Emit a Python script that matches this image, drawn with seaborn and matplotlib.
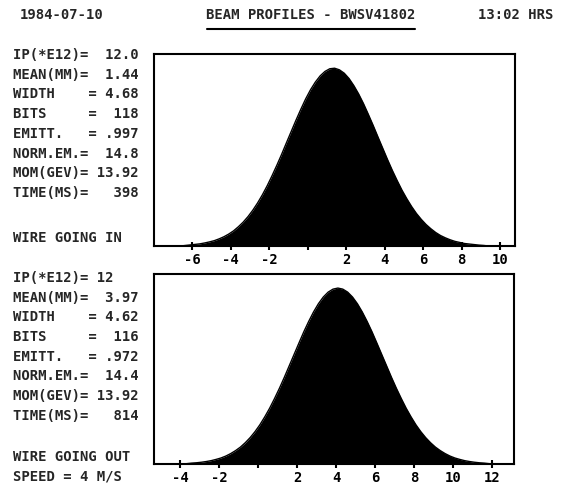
import numpy as np
import pandas as pd
import matplotlib
matplotlib.use("Agg")
import matplotlib.pyplot as plt
from matplotlib.lines import Line2D
import seaborn as sns

# ---------------- data ----------------
header_date = "1984-07-10"
header_title = "BEAM PROFILES - BWSV41802"
header_time = "13:02 HRS"

top_info = ["IP(*E12)=  12.0", "MEAN(MM)=  1.44", "WIDTH    = 4.68", "BITS     =  118",
            "EMITT.   = .997", "NORM.EM.=  14.8", "MOM(GEV)= 13.92", "TIME(MS)=   398"]
top_note = ["WIRE GOING IN"]
bot_info = ["IP(*E12)= 12", "MEAN(MM)=  3.97", "WIDTH    = 4.62", "BITS     =  116",
            "EMITT.   = .972", "NORM.EM.=  14.4", "MOM(GEV)= 13.92", "TIME(MS)=   814"]
bot_note = ["WIRE GOING OUT", "SPEED = 4 M/S"]

# wire position samples (mm): first position and spacing
top_start_mm, bot_start_mm, step_mm = -6.6, -3.9, 0.25

top_profile = [0.0, 0.3, 0.6, 0.9, 1.2, 1.7, 2.3, 3.0, 4.0, 5.2, 6.7, 8.5, 10.8, 13.4, 16.5,
               20.1, 24.2, 28.8, 33.9, 39.5, 45.4, 51.6, 58.1, 64.5, 70.9, 77.0, 82.8, 87.9,
               92.2, 95.7, 98.2, 99.7, 100.0, 99.1, 97.2, 94.2, 90.2, 85.5, 80.1, 74.1, 67.9,
               61.4, 55.0, 48.6, 42.5, 36.8, 31.4, 26.6, 22.2, 18.3, 15.0, 12.1, 9.7, 7.6, 5.9,
               4.6, 3.5, 2.6, 2.0, 1.4, 1.1, 0.8, 0.5, 0.3, 0.0]

bot_profile = [0.0, 0.2, 0.5, 0.7, 1.0, 1.4, 1.9, 2.6, 3.4, 4.5, 5.9, 7.6, 9.6, 12.1, 15.0,
               18.4, 22.3, 26.8, 31.7, 37.2, 43.0, 49.2, 55.7, 62.2, 68.7, 75.1, 81.0, 86.4,
               91.1, 94.9, 97.7, 99.4, 100.0, 99.4, 97.7, 94.9, 91.1, 86.4, 81.0, 75.1, 68.7,
               62.2, 55.7, 49.2, 43.0, 37.2, 31.7, 26.8, 22.3, 18.4, 15.0, 12.1, 9.6, 7.6, 5.9,
               4.5, 3.4, 2.6, 1.9, 1.4, 1.0, 0.7, 0.5, 0.2, 0.0]

top_ticks = [-6, -4, -2, 0, 2, 4, 6, 8, 10]
top_tick_labels = ["-6", "-4", "-2", "", "2", "4", "6", "8", "10"]
bot_ticks = [-4, -2, 0, 2, 4, 6, 8, 10, 12]
bot_tick_labels = ["-4", "-2", "", "2", "4", "6", "8", "10", "12"]

# ---------------- style ----------------
sns.set_theme(style="white")
plt.rcParams["font.family"] = ["DejaVu Sans Mono"]
plt.rcParams["font.weight"] = "bold"

W, H = 564, 484
fig = plt.figure(figsize=(W / 100, H / 100), dpi=100)
fig.patch.set_facecolor("white")


def fx(px):
    return px / W


def fy(py):
    return 1 - py / H


FS = 10


def make_panel(rect, start, values, xlim, ticks, labels):
    ax = fig.add_axes(rect)
    df = pd.DataFrame({"pos": [start + step_mm * i for i in range(len(values))],
                       "amp": values})
    sns.lineplot(data=df, x="pos", y="amp", color="black", linewidth=1.0, ax=ax)
    ax.fill_between(df["pos"], 0, df["amp"], color="black", linewidth=0)
    ax.set_xlim(*xlim)
    ax.set_ylim(0, 108)
    ax.set_yticks([])
    ax.set_xticks(ticks)
    ax.set_xticklabels(labels, fontsize=FS, fontweight="bold", color="black")
    ax.tick_params(axis="x", direction="inout", length=6, width=1.5, color="black", pad=2,
                   bottom=True)
    ax.set_xlabel("")
    ax.set_ylabel("")
    for s in ax.spines.values():
        s.set_color("black")
        s.set_linewidth(1.5)
        s.set_visible(True)
    ax.set_facecolor("white")
    return ax


make_panel([fx(154), fy(246), fx(515) - fx(154), fy(54) - fy(246)],
           top_start_mm, top_profile, (-7.98, 10.77), top_ticks, top_tick_labels)
make_panel([fx(154), fy(464), fx(514) - fx(154), fy(274) - fy(464)],
           bot_start_mm, bot_profile, (-5.33, 13.13), bot_ticks, bot_tick_labels)

# header
fig.text(fx(20), fy(15), header_date, fontsize=FS, fontweight="bold", va="center", ha="left")
fig.text(fx(311), fy(15), header_title, fontsize=FS, fontweight="bold", va="center", ha="center")
fig.text(fx(553), fy(15), header_time, fontsize=FS, fontweight="bold", va="center", ha="right")
fig.add_artist(Line2D([fx(207), fx(415)], [fy(29), fy(29)], color="black", linewidth=1.5))

# info blocks
row = 19.7
for i, s in enumerate(top_info):
    fig.text(fx(13), fy(55 + i * row), s, fontsize=FS, fontweight="bold", va="center", ha="left")
fig.text(fx(13), fy(238), top_note[0], fontsize=FS, fontweight="bold", va="center", ha="left")

for i, s in enumerate(bot_info):
    fig.text(fx(13), fy(278 + i * row), s, fontsize=FS, fontweight="bold", va="center", ha="left")
fig.text(fx(13), fy(457), bot_note[0], fontsize=FS, fontweight="bold", va="center", ha="left")
fig.text(fx(13), fy(477), bot_note[1], fontsize=FS, fontweight="bold", va="center", ha="left")

fig.savefig("out.png", dpi=100, facecolor="white")
